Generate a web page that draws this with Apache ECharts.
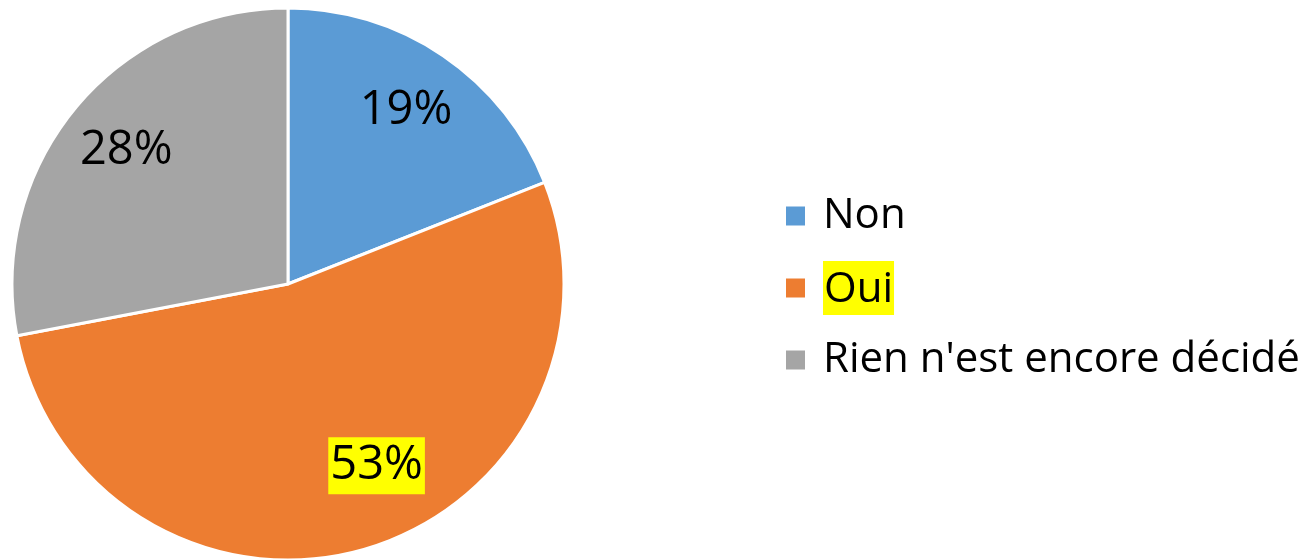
<!DOCTYPE html>
<html>
<head>
<meta charset="utf-8">
<script src="https://cdn.jsdelivr.net/npm/echarts@6/dist/echarts.min.js"></script>
<style>
  html, body { margin: 0; padding: 0; background: #fff; }
  #chart { width: 1308px; height: 560px; }
</style>
</head>
<body>
<div id="chart"></div>
<script>
// données
const categories = ["Non", "Oui", "Rien n'est encore décidé"];
const percents = [19, 53, 28];
const colors = ["#5B9BD5", "#ED7D31", "#A5A5A5"];
const highlighted = "Oui";

const chart = echarts.init(document.getElementById("chart"));

const slices = categories.map((name, i) => ({
  name: name,
  value: percents[i],
  itemStyle: { color: colors[i] }
}));

// labels : 2e série transparente pour placer le texte aux 3/4 du rayon
const labelSlices = categories.map((name, i) => {
  const item = { name: name, value: percents[i], itemStyle: { color: "rgba(0,0,0,0)" } };
  if (name === highlighted) {
    item.label = {
      backgroundColor: "#FFFF00",
      padding: [7, 2, 3, 2],
      offset: [30, -20]
    };
  }
  return item;
});

const option = {
  animation: false,
  legend: {
    orient: "vertical",
    left: 784,
    top: 187,
    padding: 0,
    itemWidth: 21,
    itemHeight: 21,
    itemGap: 16,
    icon: "rect",
    data: categories,
    textStyle: {
      fontFamily: "Open Sans",
      fontSize: 42,
      lineHeight: 58,
      color: "#000",
      padding: [0, 0, 0, 12],
      rich: {
        hl: {
          fontFamily: "Open Sans",
          fontSize: 42,
          lineHeight: 46,
          color: "#000",
          backgroundColor: "#FFFF00",
          padding: [8, 1, 4, 1]
        }
      }
    },
    formatter: name => (name === highlighted ? "{hl|" + name + "}" : name)
  },
  series: [
    {
      type: "pie",
      center: [288, 284],
      radius: 276,
      startAngle: 90,
      clockwise: true,
      silent: true,
      label: { show: false },
      labelLine: { show: false },
      itemStyle: { borderColor: "#fff", borderWidth: 3 },
      data: slices
    },
    {
      type: "pie",
      center: [288, 284],
      radius: [138, 276],
      startAngle: 90,
      clockwise: true,
      silent: true,
      label: {
        show: true,
        position: "inside",
        formatter: "{c}%",
        fontFamily: "Open Sans",
        fontSize: 47,
        color: "#000"
      },
      labelLine: { show: false },
      data: labelSlices
    }
  ]
};

chart.setOption(option);
</script>
</body>
</html>
